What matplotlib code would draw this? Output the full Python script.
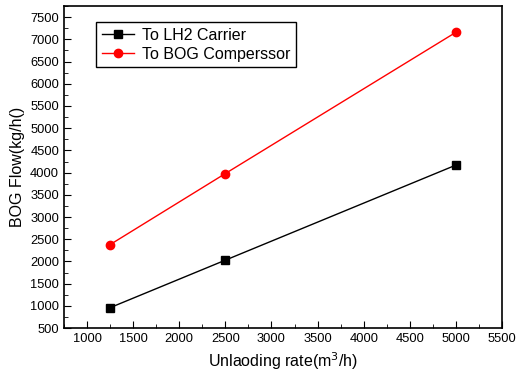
import matplotlib
matplotlib.use("Agg")
import matplotlib.pyplot as plt
from matplotlib.ticker import MultipleLocator

plt.rcParams['font.family'] = ['Liberation Sans', 'DejaVu Sans']

rate = [1250, 2500, 5000]
to_carrier = [960, 2030, 4170]
to_compressor = [2380, 3980, 7160]

fig = plt.figure(figsize=(5.16, 3.78), dpi=100)
ax = fig.add_axes([0.124, 0.132, 0.849, 0.852])

ax.plot(rate, to_carrier, color='black', lw=1, marker='s', ms=5.5, label='To LH2 Carrier')
ax.plot(rate, to_compressor, color='red', lw=1, marker='o', ms=6, label='To BOG Comperssor')

ax.set_xlim(750, 5500)
ax.set_ylim(500, 7750)
ax.xaxis.set_major_locator(MultipleLocator(500))
ax.xaxis.set_minor_locator(MultipleLocator(250))
ax.yaxis.set_major_locator(MultipleLocator(500))
ax.yaxis.set_minor_locator(MultipleLocator(250))
ax.tick_params(which='both', direction='in', labelsize=9.3)
ax.tick_params(which='major', length=5)
ax.tick_params(which='minor', length=3)
for s in ax.spines.values():
    s.set_linewidth(1.2)

ax.set_xlabel('Unlaoding rate(m$^3$/h)', fontsize=11.5)
ax.set_ylabel('BOG Flow(kg/h()', fontsize=11.5)

leg = ax.legend(loc='upper left', bbox_to_anchor=(0.055, 0.975), fontsize=11.5,
                fancybox=False, edgecolor='black', framealpha=1,
                handlelength=2.0, handletextpad=0.5, borderpad=0.35, labelspacing=0.25)
leg.get_frame().set_linewidth(1)

fig.savefig('out.png', dpi=100)
